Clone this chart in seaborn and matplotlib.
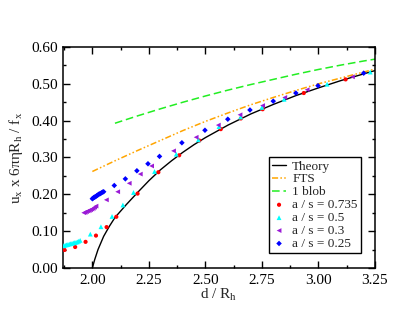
import numpy as np
import pandas as pd
import matplotlib
matplotlib.use("Agg")
import matplotlib.pyplot as plt
from matplotlib.ticker import MultipleLocator, FormatStrFormatter
import seaborn as sns

# theory / model curves
theory_d = [2.0, 2.01, 2.025, 2.05, 2.075, 2.1, 2.15, 2.2, 2.25, 2.3, 2.35, 2.4,
            2.45, 2.5, 2.6, 2.7, 2.8, 2.9, 3.0, 3.1, 3.2, 3.25]
theory_u = [0.0, 0.022, 0.050, 0.086, 0.113, 0.137, 0.172, 0.205, 0.237, 0.266, 0.291, 0.314,
            0.335, 0.354, 0.388, 0.418, 0.444, 0.468, 0.489, 0.509, 0.527, 0.536]

fts_d = [2.0, 2.1, 2.2, 2.3, 2.4, 2.5, 2.6, 2.7, 2.8, 2.9, 3.0, 3.1, 3.2, 3.25]
fts_u = [0.262, 0.291, 0.319, 0.346, 0.373, 0.398, 0.421, 0.443, 0.463, 0.482,
         0.500, 0.516, 0.532, 0.540]

blob_d = [2.1, 2.2, 2.3, 2.4, 2.5, 2.6, 2.7, 2.8, 2.9, 3.0, 3.1, 3.2, 3.25]
blob_u = [0.393, 0.413, 0.432, 0.450, 0.467, 0.483, 0.498, 0.512, 0.526, 0.539,
          0.551, 0.562, 0.567]

# simulation points
red_d = [1.877, 1.924, 1.970, 2.016, 2.063, 2.106, 2.200, 2.292, 2.384, 2.473,
         2.568, 2.657, 2.753, 2.935, 3.120]
red_u = [0.049, 0.057, 0.071, 0.088, 0.111, 0.139, 0.202, 0.260, 0.306, 0.346,
         0.377, 0.406, 0.431, 0.475, 0.512]

cyan_d = [1.868, 1.874, 1.880, 1.886, 1.892, 1.898, 1.904, 1.910, 1.916, 1.922,
          1.928, 1.934, 1.940, 1.946, 1.991, 2.038, 2.087, 2.135, 2.182, 2.275,
          2.371, 2.469, 2.560, 2.656, 2.750, 2.848, 3.038, 3.229]
cyan_u = [0.060, 0.061, 0.062, 0.063, 0.064, 0.065, 0.066, 0.067, 0.068, 0.069,
          0.070, 0.071, 0.073, 0.075, 0.092, 0.112, 0.140, 0.171, 0.205, 0.262,
          0.309, 0.348, 0.384, 0.410, 0.436, 0.458, 0.499, 0.532]

purple_d = [1.962, 1.968, 1.974, 1.980, 1.986, 1.992, 1.998, 2.004, 2.010, 2.016,
            2.062, 2.112, 2.163, 2.212, 2.262, 2.359, 2.459, 2.557, 2.653, 2.753,
            2.851, 2.950, 3.150]
purple_u = [0.150, 0.151, 0.153, 0.155, 0.156, 0.158, 0.160, 0.162, 0.165, 0.168,
            0.185, 0.207, 0.230, 0.255, 0.277, 0.318, 0.355, 0.388, 0.416, 0.441,
            0.463, 0.484, 0.519]

blue_d = [2.000, 2.004, 2.008, 2.012, 2.017, 2.021, 2.026, 2.030, 2.035, 2.040,
          2.045, 2.050, 2.097, 2.146, 2.197, 2.246, 2.297, 2.396, 2.498, 2.599,
          2.697, 2.800, 2.900, 2.998, 3.200]
blue_u = [0.188, 0.190, 0.192, 0.193, 0.195, 0.197, 0.199, 0.201, 0.202, 0.204,
          0.206, 0.207, 0.224, 0.242, 0.264, 0.283, 0.303, 0.340, 0.374, 0.404,
          0.429, 0.453, 0.475, 0.495, 0.529]

sns.set_style("ticks")
plt.rcParams['font.family'] = ['Liberation Serif', 'DejaVu Serif']
plt.rcParams['mathtext.default'] = 'regular'

fig = plt.figure(figsize=(4.07, 3.15), dpi=100)
ax = fig.add_axes([62.5 / 407, 47 / 315, 312.5 / 407, 221 / 315])

sns.lineplot(x=theory_d, y=theory_u, ax=ax, color='black', lw=1.0,
             estimator=None, label='Theory')
sns.lineplot(x=fts_d, y=fts_u, ax=ax, color='#ffa500', lw=1.1,
             linestyle=(0, (4, 1.5, 1, 1.5, 1, 1.5)), estimator=None, label='FTS')
sns.lineplot(x=blob_d, y=blob_u, ax=ax, color='#22ee22', lw=1.1,
             linestyle=(0, (5, 2.5)), estimator=None, label='1 blob')

series = [
    (red_d, red_u, '#ff0000', 'o', 9, 'a / s = 0.735'),
    (cyan_d, cyan_u, '#00ffff', '^', 12, 'a / s = 0.5'),
    (purple_d, purple_u, '#9a1ad6', '<', 12, 'a / s = 0.3'),
    (blue_d, blue_u, '#0000ff', 'D', 8, 'a / s = 0.25'),
]
for d, u, col, mk, size, lab in series:
    sns.scatterplot(x=d, y=u, ax=ax, color=col, marker=mk, s=size,
                    edgecolor='none', label=lab, zorder=3)

ax.set_xlim(1.868, 3.25)
ax.set_ylim(0.0, 0.60)
ax.xaxis.set_major_locator(MultipleLocator(0.25))
ax.xaxis.set_minor_locator(MultipleLocator(0.125))
ax.yaxis.set_major_locator(MultipleLocator(0.10))
ax.yaxis.set_minor_locator(MultipleLocator(0.05))
ax.xaxis.set_major_formatter(FormatStrFormatter('%.2f'))
ax.yaxis.set_major_formatter(FormatStrFormatter('%.2f'))
ax.tick_params(which='both', direction='in', top=True, right=True,
               labelsize=11, color='black', labelcolor='black', width=1.0)
ax.tick_params(which='major', length=5)
ax.tick_params(which='minor', length=2.5)
ax.tick_params(axis='x', which='major', pad=4)
for sp in ax.spines.values():
    sp.set_visible(True)
    sp.set_color('black')
    sp.set_linewidth(1.1)

ax.set_xlabel('d / R$_h$', fontsize=11, labelpad=0)
ax.set_ylabel('u$_x$ x 6πηR$_h$ / f$_x$', fontsize=11, labelpad=4)

leg = ax.legend(loc='lower right', bbox_to_anchor=(0.976, 0.037), fontsize=9.5,
                frameon=True, fancybox=False, edgecolor='black', framealpha=1,
                handlelength=1.0, handletextpad=0.5, labelspacing=0.05,
                borderpad=0.25, markerscale=1.0)
leg.get_frame().set_linewidth(1.0)

fig.savefig('out.png', dpi=100)
